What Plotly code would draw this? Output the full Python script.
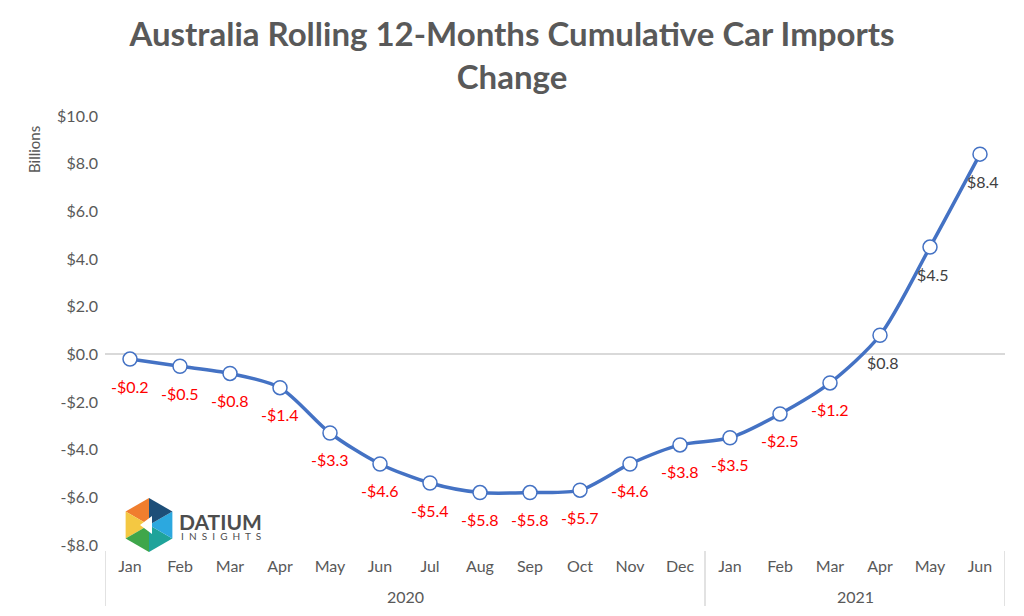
import plotly.graph_objects as go
import math

years = ["2020"] * 12 + ["2021"] * 6
months = ["Jan", "Feb", "Mar", "Apr", "May", "Jun", "Jul", "Aug", "Sep", "Oct", "Nov", "Dec",
          "Jan", "Feb", "Mar", "Apr", "May", "Jun"]
values = [-0.2, -0.5, -0.8, -1.4, -3.3, -4.6, -5.4, -5.8, -5.8, -5.7, -4.6, -3.8,
          -3.5, -2.5, -1.2, 0.8, 4.5, 8.4]
y_ticks = [-8, -6, -4, -2, 0, 2, 4, 6, 8, 10]
y_tick_labels = ["-$8.0", "-$6.0", "-$4.0", "-$2.0", "$0.0", "$2.0", "$4.0", "$6.0", "$8.0", "$10.0"]

FONT = "Lato"
W, H = 1024, 616
ML, MR, MT, MB = 105, 19, 116, 71

cats = [f"{m} {y}" for m, y in zip(months, years)]

def lbl(v):
    return ("-$" if v < 0 else "$") + f"{abs(v):.1f}"

pw, ph = W - ML - MR, H - MT - MB
def px(x):
    return (x - ML) / pw
def py(y):
    return (H - MB - y) / ph

fig = go.Figure()
fig.add_trace(go.Scatter(
    x=cats, y=values, mode="lines+markers",
    line=dict(color="#4472C4", width=3.5, shape="spline", smoothing=0.8),
    marker=dict(size=14, color="white", line=dict(color="#4472C4", width=1.5)),
    hoverinfo="skip", showlegend=False,
))

for c, v in zip(cats, values):
    fig.add_annotation(
        x=c, y=v, text=lbl(v), showarrow=False, yshift=-27,
        xshift=0 if v < 0 else 3,
        font=dict(family=FONT, size=16, color="#FF0000" if v < 0 else "#404040"),
    )

# year group labels and dividers, derived from the years list
groups = []
for i, yv in enumerate(years):
    if not groups or groups[-1][0] != yv:
        groups.append([yv, i, i])
    else:
        groups[-1][2] = i
bounds = sorted({g[1] - 0.5 for g in groups} | {g[2] + 0.5 for g in groups})
for b in bounds:
    fig.add_shape(type="line", xref="x", yref="paper", x0=b, x1=b, y0=py(551), y1=py(606),
                  line=dict(color="#D9D9D9", width=1.5))
for yv, i0, i1 in groups:
    fig.add_annotation(x=(i0 + i1) / 2, y=py(596), xref="x", yref="paper", text=yv,
                       showarrow=False, yanchor="middle",
                       font=dict(family=FONT, size=16, color="#595959"))

# simplified hexagon logo
cx, cy, r = 149, 525, 27
verts = [(cx + r * math.cos(math.radians(a)), cy - r * math.sin(math.radians(a)))
         for a in [90, 150, 210, 270, 330, 30]]
cols = ["#F07E2E", "#F4C842", "#3FA64A", "#1FA39A", "#2CA8DF", "#1D4E78"]
for i in range(6):
    a = verts[i]; b = verts[(i + 1) % 6]
    path = f"M {px(cx)} {py(cy)} L {px(a[0])} {py(a[1])} L {px(b[0])} {py(b[1])} Z"
    fig.add_shape(type="path", path=path, xref="paper", yref="paper",
                  fillcolor=cols[i], line=dict(width=0), layer="above")
tri = f"M {px(cx-9)} {py(cy)} L {px(cx+3)} {py(cy-9)} L {px(cx+3)} {py(cy+9)} Z"
fig.add_shape(type="path", path=tri, xref="paper", yref="paper",
              fillcolor="white", line=dict(width=0), layer="above")
fig.add_annotation(x=px(177), y=py(521), xref="paper", yref="paper", text="<b>DATIUM</b>",
                   showarrow=False, xanchor="left", yanchor="middle",
                   font=dict(family=FONT, size=21, color="#4D4D4D"))
fig.add_annotation(x=px(179), y=py(536), xref="paper", yref="paper",
                   text="I&nbsp; N&nbsp; S&nbsp; I&nbsp; G&nbsp; H&nbsp; T&nbsp; S",
                   showarrow=False, xanchor="left", yanchor="middle",
                   font=dict(family=FONT, size=10, color="#4D4D4D"))

fig.add_annotation(x=px(34), y=py(150), xref="paper", yref="paper", text="Billions",
                   textangle=-90, showarrow=False, xanchor="center", yanchor="middle",
                   font=dict(family=FONT, size=15, color="#595959"))

fig.update_layout(
    width=W, height=H,
    margin=dict(l=ML, r=MR, t=MT, b=MB, autoexpand=False),
    paper_bgcolor="white", plot_bgcolor="white",
    title=dict(text="<b>Australia Rolling 12-Months Cumulative Car Imports<br>Change</b>",
               x=0.5, xanchor="center", xref="container", y=0.925, yanchor="top", yref="container",
               font=dict(family=FONT, size=33, color="#595959")),
    font=dict(family=FONT, color="#595959"),
    xaxis=dict(type="category", range=[-0.5, len(cats) - 0.5], tickvals=cats, ticktext=months,
               showgrid=False, showline=False, ticks="", automargin=False,
               ticklabelstandoff=10, tickfont=dict(size=16, color="#595959")),
    yaxis=dict(range=[-8, 10], tickvals=y_ticks, ticktext=y_tick_labels, automargin=False,
               showgrid=False, zeroline=True, zerolinecolor="#D9D9D9", zerolinewidth=1.5,
               showline=False, ticks="", ticklabelstandoff=6,
               tickfont=dict(size=16, color="#595959")),
)

fig.write_html("out.html", config={"displayModeBar": False},
               post_script="document.body.style.margin='0';")
